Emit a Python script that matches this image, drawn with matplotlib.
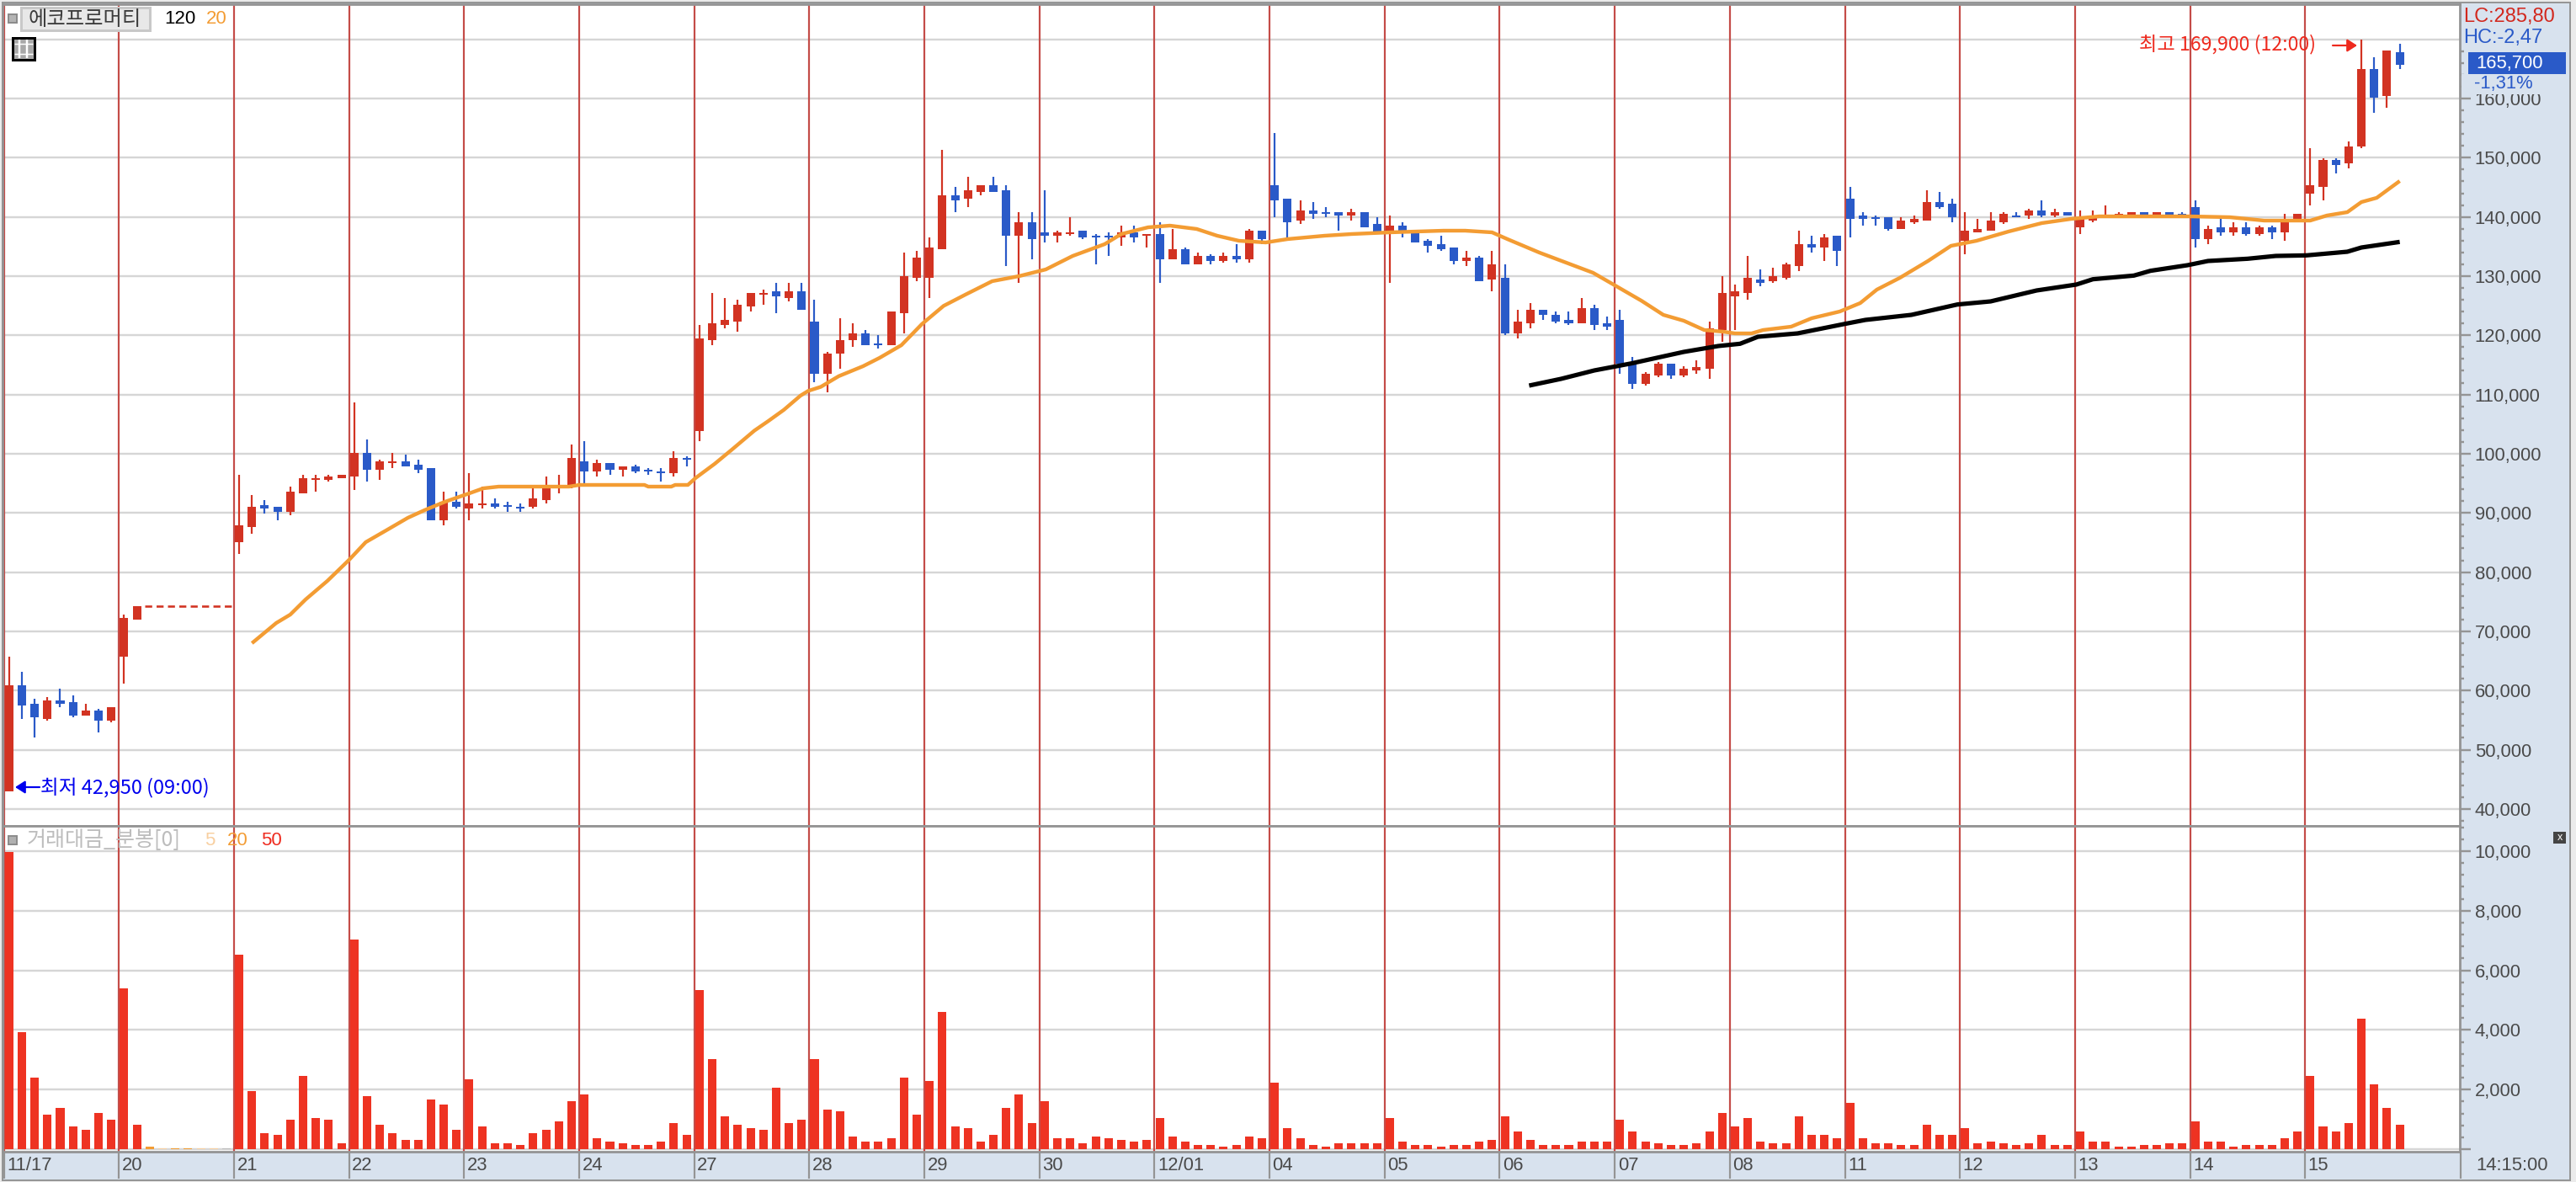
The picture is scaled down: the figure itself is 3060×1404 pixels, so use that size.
import numpy as np
import matplotlib
matplotlib.use("Agg")
import matplotlib.pyplot as plt
from matplotlib.patches import Rectangle
from matplotlib.ticker import FixedLocator, FuncFormatter

NARROW = ['Liberation Sans Narrow', 'Liberation Sans', 'Noto Sans CJK KR', 'DejaVu Sans']
KR = ['Liberation Sans Narrow', 'Noto Sans CJK KR', 'DejaVu Sans']

title = "에코프로머티"
volume_title = "거래대금_분봉[0]"
day_labels = ['11/17', '20', '21', '22', '23', '24', '27', '28', '29', '30', '12/01',
              '04', '05', '06', '07', '08', '11', '12', '13', '14', '15']
bars_per_day = 9
direction = ("UDDUDDUDU" "UU-------" "UUDDUUUUU" "UDUUDDDUD" "UUDDDUUUU" "DUDUDDDUD" "UUUUUUDUD"
             "DUUUDDUUU" "UUDUUDDUD" "DUUDDDUDU" "DUDUDUDUD" "DDUDDDUDD" "UDDDDDUDU" "DUUDDDUDD"
             "DDUUDUUUU" "UUDUUUDUD" "DDDDUUUDD" "UUUUDUDUD" "UUUUUDUDD" "DUDUDUDUU" "UUDUUDUD")
n = np.nan
halt_price = 74250
body_high = [
 60900,60900,57750,58350,58350,58050,56600,56600,57200,
 72250,74250,n,n,n,n,n,n,n,
 87900,91050,91300,91050,93600,95850,95850,96150,96450,
 100150,100150,98700,98700,98700,98150,97550,91900,91900,
 91600,91600,91600,91300,91050,92450,94450,94750,99300,
 98700,98450,98450,97850,97850,97300,97000,99300,99300,
 119450,122050,122600,125150,127150,127150,127450,127450,127450,
 122300,116900,119200,120350,120350,118600,124000,130000,133100,
 134850,143650,143650,144500,145350,145350,144500,139100,139100,
 137400,137400,137400,137650,136800,136800,137400,137400,137100,
 137100,134550,134550,133400,133400,133400,133400,137650,137650,
 145350,143100,141100,141100,140800,140800,140800,140800,138800,
 138550,138550,137650,135950,135400,134850,133100,133100,132000,
 129700,122300,124300,124300,123450,122600,124600,124600,122050,
 122600,115200,113500,115200,115200,114350,114650,121200,127150,
 127450,129700,129450,130000,132000,135400,135400,136550,136800,
 143100,140250,139950,139950,139400,139650,142500,142500,142200,
 137650,137950,139400,140500,140250,141100,141100,140800,140800,
 139650,140250,140250,140500,140800,140800,140800,140800,140500,
 141650,137950,138250,138250,138250,138250,138250,139650,140500,
 145350,149600,149600,151900,165000,165000,168100,167800]
body_low = [
 42950,57450,55500,55200,57750,55750,55750,54900,54900,
 65700,72000,n,n,n,n,n,n,n,
 85050,87600,90750,90200,90200,93300,95600,95600,95850,
 96150,97300,97300,98450,97850,97300,88750,88750,91050,
 90750,91300,91050,91050,90750,91050,92150,94150,94450,
 97000,97000,97300,97300,97000,97000,96700,96700,99000,
 103850,119200,121750,122300,124900,126850,126600,126300,124300,
 113500,113500,116900,119200,118350,118350,118350,123750,129700,
 129700,134550,142800,143100,144200,144200,136800,136800,136250,
 136800,136800,137100,136550,136550,136550,136550,136550,136800,
 132850,132850,132000,132000,132550,132550,132850,132850,136250,
 142800,139100,139400,140500,140500,140250,140250,138250,137400,
 137400,137400,135700,135100,134550,132550,132550,129150,129450,
 120350,120350,122050,123450,122300,122050,122050,121750,121450,
 115200,111800,111800,113200,113200,113200,114050,114350,120900,
 126600,127150,128850,129150,129700,131700,134850,134850,134250,
 139650,139650,139650,137950,137950,139100,139400,141650,139950,
 135950,137400,137650,139100,139950,140250,140250,140250,140250,
 138250,139400,139950,139950,140250,140250,140250,140250,140250,
 136250,136250,137400,137400,137100,137100,137400,137400,139400,
 143950,145050,148750,149050,151900,160150,160450,165700]
wick_high = [
 65700,63150,58600,58900,60300,59200,57750,56900,57200,
 72850,74250,n,n,n,n,n,n,n,
 96450,93000,92150,91050,94450,96450,96450,96450,96450,
 108650,102400,99000,100150,99850,99000,97550,93600,93600,
 96700,94450,92450,91900,91600,94450,96150,96450,101550,
 102100,99000,98450,97850,98150,97550,97550,100400,99550,
 121750,127150,126300,126000,127150,127700,128850,128850,128850,
 126000,117200,122900,122050,120900,120050,124000,134000,134250,
 136550,151300,145050,146750,145350,146750,145350,140800,140800,
 144500,137650,139950,137650,137100,137400,138550,138550,137100,
 139100,137950,134850,134000,133700,134000,135400,137950,137650,
 154150,143100,142800,142500,141650,140800,141350,140800,139950,
 140250,139100,137650,136250,136800,134850,134250,133400,134250,
 132000,124300,125450,124300,124000,124000,126300,125150,123150,
 124300,116350,113800,115500,115200,114800,115800,122300,130000,
 128550,133400,131150,131400,132250,137650,136800,137100,136800,
 145050,140800,140250,139950,139950,140250,144500,144200,143100,
 140800,139650,140800,140800,140800,141350,142800,141350,140800,
 141100,141100,141950,140800,140800,140800,140800,140800,140800,
 142800,138550,140250,139100,139100,138550,138550,140500,140500,
 151600,149900,149900,152750,169900,166950,168100,169250]
wick_low = [
 42950,55200,52050,54900,57200,55500,55750,52900,54650,
 61150,72000,n,n,n,n,n,n,n,
 83050,86500,89900,88750,89600,93300,93600,95300,95850,
 93900,95300,95600,97550,97850,96700,88750,87900,90750,
 88750,90750,90750,90200,90200,90750,91600,93300,94150,
 94750,96150,96450,96150,96700,96450,95300,96150,97850,
 102100,118350,121200,120600,124000,125150,123750,125750,124300,
 112100,110350,114350,118050,118350,117750,118350,120350,129150,
 126300,134550,140800,141650,143650,144200,131700,128850,132850,
 135700,135700,136800,136250,132000,133400,135100,135700,134850,
 128850,132850,132000,132000,132000,132250,132250,132250,135400,
 139950,136250,138800,139650,139950,137650,139400,138250,137400,
 128850,136550,135700,134000,134250,132000,131700,129150,127450,
 120050,119450,121200,122600,122050,121750,122050,120900,120900,
 113500,110950,111500,112950,112650,112950,113500,112650,118900,
 120900,126000,128300,128850,129450,130850,134000,132550,131700,
 136550,138550,138550,137650,137950,138800,139400,141350,139100,
 133700,137400,137650,138800,139950,139650,139950,139950,140250,
 137100,139100,139950,139950,140250,140250,139950,139950,140250,
 134850,135400,136800,136800,136800,136800,136250,135950,139400,
 141950,142800,147350,148200,151600,157600,158450,165000]
volume = [
 9972,3927,2401,1158,1384,763,650,1215,989,
 5395,819,85,28,28,28,28,28,28,
 6525,1949,537,480,989,2458,1045,989,198,
 7034,1780,819,537,311,311,1667,1497,650,
 2345,763,198,198,141,537,650,932,1610,
 1836,367,254,198,141,141,254,876,480,
 5339,3023,1102,819,706,650,2062,876,989,
 3023,1328,1271,424,254,254,367,2401,1158,
 2288,4605,763,706,254,480,1384,1836,876,
 1610,367,367,198,424,367,311,254,311,
 1045,424,254,141,141,85,141,424,367,
 2232,706,367,141,85,198,198,198,198,
 1045,254,141,141,85,141,141,254,311,
 1102,593,311,141,141,141,254,254,254,
 989,593,254,198,141,141,198,593,1215,
 763,1045,254,198,198,1102,480,480,367,
 1554,367,198,198,141,141,819,480,480,
 706,198,254,198,141,198,480,141,141,
 593,254,254,85,85,141,141,198,198,
 932,254,254,85,141,141,141,367,593,
 2458,763,593,876,4379,2175,1384,819]
small_bar_kind = {11: 'o', 12: 'l', 13: 'o', 14: 'o', 15: 'l', 16: 'l', 17: 'g'}

ma20_x = [19, 20.9, 22, 23.2, 24.9, 26.6, 27.9, 29.5, 31.2, 32.5, 34.1, 36, 37.1, 38.3, 43.8, 44.6, 49.7, 50,
          51.8, 52.1, 53.1, 53.7, 55.2, 56.6, 58.3, 59.4, 60.6, 61.9, 62.5, 63.5, 64.9,
          66.8, 68.1, 69.8, 71.4, 73.1, 74.8, 76.9, 79, 81.1, 83.2, 85.7, 87, 89.1, 90.8, 92.9, 94.5, 96.2, 98.3,
          100, 102.9, 105, 108, 112.2, 113.9, 116, 117.2, 119.7, 121.8, 123.9, 125.5, 127.7, 129.4,
          131, 132.6, 134.1, 135, 136.3, 137.2, 139.4, 141, 143.2, 144.8, 146.1, 147.9, 150.1, 151.9, 153.9,
          156.4, 159, 161.3, 163.5, 167, 170.6, 173.7, 176.4, 180, 181.3, 182.9, 184, 185.2, 187]
ma20_y = [67996, 71409, 72831, 75391, 78519, 82074, 85060, 87051, 89184, 90464, 91886, 93308, 94161, 94445,
          94445, 94730, 94730, 94445, 94445, 94730, 94730, 95900, 98300, 100800, 103900, 105537,
          107400, 109800, 110600, 111300, 113100,
          114780, 116202, 118335, 121890, 124971, 126867, 129142, 129995, 131133, 133408, 135399, 137106,
          138243, 138527, 137959, 136821, 135968, 135683, 136252, 136821, 137106, 137390, 137674, 137674,
          137390, 136252, 133977, 132271, 130564, 128573, 125824, 123453,
          122459, 120895, 120610, 120326, 120326, 120895, 121463, 122885, 124023, 125445, 127720, 129711,
          132555, 135115, 135968, 137532, 138954, 139665, 140092, 140092, 140092, 139950, 139381, 139381,
          140234, 140803, 142509, 143220, 146064]
ma120_x = [118.9, 121.4, 124, 126.9, 130.99, 133.7, 135.4, 136.8, 139.9, 143.5, 145.2, 148.8, 152.4, 155,
           158.6, 161.7, 163, 166.2, 167.5, 170.4, 172, 175.1, 177.3, 179.7, 182.9, 184, 187]
ma120_y = [111510, 112647, 114069, 115254, 117197, 118193, 118572, 119757, 120326, 121890, 122601, 123454,
           125208, 125730, 127578, 128573, 129474, 130090, 130896, 131844, 132555, 132934, 133408, 133503,
           134119, 134830, 135778]

price_ticks = list(range(40000, 170000, 10000))
price_grid = list(range(40000, 180000, 10000))
price_minor = list(range(38000, 170000, 2000))
volume_ticks = [0, 2000, 4000, 6000, 8000, 10000]
volume_minor = list(range(0, 10801, 400))

RED = '#d23322'; BLUE = '#2a5ac8'; ORANGE = '#f39c33'; VOLRED = '#ee3322'
DAYLINE = '#c44c48'; GRID = '#d6d6d6'; STRIP = '#d8e2ee'; EDGE = '#949494'; TXT = '#4a4a4a'
W, H = 3060, 1404
fig = plt.figure(figsize=(W / 100, H / 100), dpi=100, facecolor='#ebebeb')

def axpx(x0, y0, x1, y1, **kw):
    return fig.add_axes([x0 / W, 1 - y1 / H, (x1 - x0) / W, (y1 - y0) / H], **kw)

bg = axpx(3, 3, 3053, 1402, zorder=0)
bg.set_facecolor(STRIP); bg.set_xticks([]); bg.set_yticks([])
for s in bg.spines.values():
    s.set_color(EDGE); s.set_linewidth(1.4)

ax = axpx(3, 5, 2922, 981, zorder=2)
ax2 = axpx(3, 981, 2922, 1368, zorder=2)
xlim = (-0.51, 191.7)
ax.set_xlim(*xlim); ax.set_ylim(37139, 175926)
ax2.set_xlim(*xlim); ax2.set_ylim(-85, 10847)

xs = np.arange(len(direction))
day_x = np.arange(len(day_labels)) * bars_per_day - 0.4
px = 1 / 1.39

for a in (ax, ax2):
    a.set_facecolor('white')
    for s in a.spines.values():
        s.set_color(EDGE); s.set_linewidth(2.8 * px)
    a.vlines(day_x, 0, 1, transform=a.get_xaxis_transform(), color=DAYLINE, lw=2.2 * px, zorder=2)
    a.yaxis.tick_right()
    a.set_axisbelow(True)

ax.hlines(price_grid, *xlim, color=GRID, lw=2.4 * px, zorder=1)
ax2.hlines(volume_ticks, *xlim, color=GRID, lw=2.4 * px, zorder=1)

bh = np.array(body_high, float); bl = np.array(body_low, float)
wh = np.array(wick_high, float); wl = np.array(wick_low, float)
for code, col in (('U', RED), ('D', BLUE)):
    m = np.array([c == code for c in direction])
    ax.vlines(xs[m], wl[m], wh[m], color=col, lw=2.2 * px, zorder=3)
    ax.bar(xs[m], bh[m] - bl[m], bottom=bl[m], width=0.66, color=col, linewidth=0, zorder=3)
halt = [i for i, c in enumerate(direction) if c == '-']
ax.hlines(halt_price, halt[0] - 0.4, halt[-1] + 0.4, color=RED, lw=2.6 * px, linestyles=(0, (3.2, 2)), zorder=3)

ax.plot(ma120_x, ma120_y, color='black', lw=5.2 * px, zorder=4, solid_capstyle='butt')
ax.plot(ma20_x, ma20_y, color=ORANGE, lw=4.4 * px, zorder=5, solid_capstyle='butt')

kind_col = {'o': ORANGE, 'l': '#f8cfa0', 'g': '#bdbdbd'}
vcolors = [kind_col[small_bar_kind[i]] if i in small_bar_kind else VOLRED for i in xs]
ax2.bar(xs, volume, width=0.66, color=vcolors, linewidth=0, zorder=3)

fmt = FuncFormatter(lambda v, p: f"{v:,.0f}")
ax.yaxis.set_major_locator(FixedLocator(price_ticks)); ax.yaxis.set_major_formatter(fmt)
ax.yaxis.set_minor_locator(FixedLocator(price_minor))
ax2.yaxis.set_major_locator(FixedLocator(volume_ticks))
ax2.yaxis.set_major_formatter(FuncFormatter(lambda v, p: "" if v == 0 else f"{v:,.0f}"))
ax2.yaxis.set_minor_locator(FixedLocator(volume_minor))
for a in (ax, ax2):
    a.tick_params(axis='y', which='major', length=13 * px, width=2.4 * px, color=EDGE, pad=3.5,
                  labelsize=15.8, labelcolor=TXT)
    a.tick_params(axis='y', which='minor', length=5 * px, width=2.4 * px, color=EDGE)
    for t in a.get_yticklabels():
        t.set_family(NARROW)
ax.set_xticks([])
ax2.set_xticks(day_x)
ax2.set_xticklabels([])
ax2.tick_params(axis='x', length=32 * px, width=2.2 * px, color=EDGE)
for x, lab in zip(day_x, day_labels):
    ax2.annotate(lab, (x, 0), xycoords=ax2.get_xaxis_transform(), xytext=(2.5, -17 * px),
                 textcoords='offset points', va='center', ha='left', fontsize=15.8, color=TXT,
                 family=NARROW, annotation_clip=False)

ov = fig.add_axes([0, 0, 1, 1], zorder=10)
ov.set_xlim(0, W); ov.set_ylim(H, 0); ov.axis('off'); ov.patch.set_alpha(0)
ov.add_patch(Rectangle((10, 17), 10, 10, fc='#b4b4b4', ec='#8c8c8c', lw=2 * px))
ov.add_patch(Rectangle((25, 9), 153, 27, fc='#e8e8e8', ec='#c8c8c8', lw=3 * px))
ov.text(101, 23, title, family=KR, fontsize=17.5, color='#3c3c3c', ha='center', va='center')
ov.text(195, 23, "120", family=NARROW, fontsize=16, color='black', va='center')
ov.text(245, 23, "20", family=NARROW, fontsize=16, color=ORANGE, va='center')
ov.add_patch(Rectangle((15, 45), 26, 26, fc='#a8a8a8', ec='black', lw=3 * px))
ov.hlines([52, 64], 17, 39, color='white', lw=1.5 * px)
ov.vlines([23, 32], 47, 69, color='white', lw=2.5 * px)
ov.add_patch(Rectangle((10, 993), 10, 10, fc='#b0b0b0', ec='#8c8c8c', lw=2 * px))
ov.text(32, 998, volume_title, family=KR, fontsize=18, color='#bdbdbd', va='center')
ov.text(243, 998, "5", family=NARROW, fontsize=16, color='#f8cfa0', va='center')
ov.text(270, 998, "20", family=NARROW, fontsize=16, color=ORANGE, va='center')
ov.text(310, 998, "50", family=NARROW, fontsize=16, color='#ee2a1e', va='center')
ov.add_patch(Rectangle((3033, 988), 15, 14, fc='#444444', ec='none'))
ov.text(3040.5, 995, "x", color='white', fontsize=9, ha='center', va='center', family=NARROW)
ov.add_patch(Rectangle((2924, 88), 128, 24, fc=STRIP, ec='none'))
ov.add_patch(Rectangle((2932, 62), 116, 26, fc=BLUE, ec='none'))
ov.text(2926, 20, "LC:285,80", family=NARROW, fontsize=17, color='#d2281e', va='center')
ov.text(2926, 45, "HC:-2,47", family=NARROW, fontsize=17, color=BLUE, va='center')
ov.text(2941, 75, "165,700", family=NARROW, fontsize=15.8, color='white', va='center')
ov.text(2939, 99, "-1,31%", family=NARROW, fontsize=15.8, color=BLUE, va='center')
ov.text(2941, 1385, "14:15:00", family=NARROW, fontsize=15.8, color=TXT, va='center')
ov.vlines(2923, 1368, 1400, color=EDGE, lw=2.2 * px)
ov.text(2541, 53, "최고 169,900 (12:00)", family=KR, fontsize=16.7, color='#ee2a1e', va='center')
ov.annotate("", xy=(2800, 54), xytext=(2771, 54),
            arrowprops=dict(arrowstyle='-|>,head_width=0.45,head_length=0.7', color='#ee2a1e', lw=2.2 * px, shrinkA=0, shrinkB=0))
ov.text(48, 935, "최저 42,950 (09:00)", family=KR, fontsize=17, color='#0000ee', va='center')
ov.annotate("", xy=(18, 935), xytext=(47, 935),
            arrowprops=dict(arrowstyle='-|>,head_width=0.45,head_length=0.7', color='#0000ee', lw=2.2 * px, shrinkA=0, shrinkB=0))

fig.savefig("out.png", dpi=100, facecolor=fig.get_facecolor())
